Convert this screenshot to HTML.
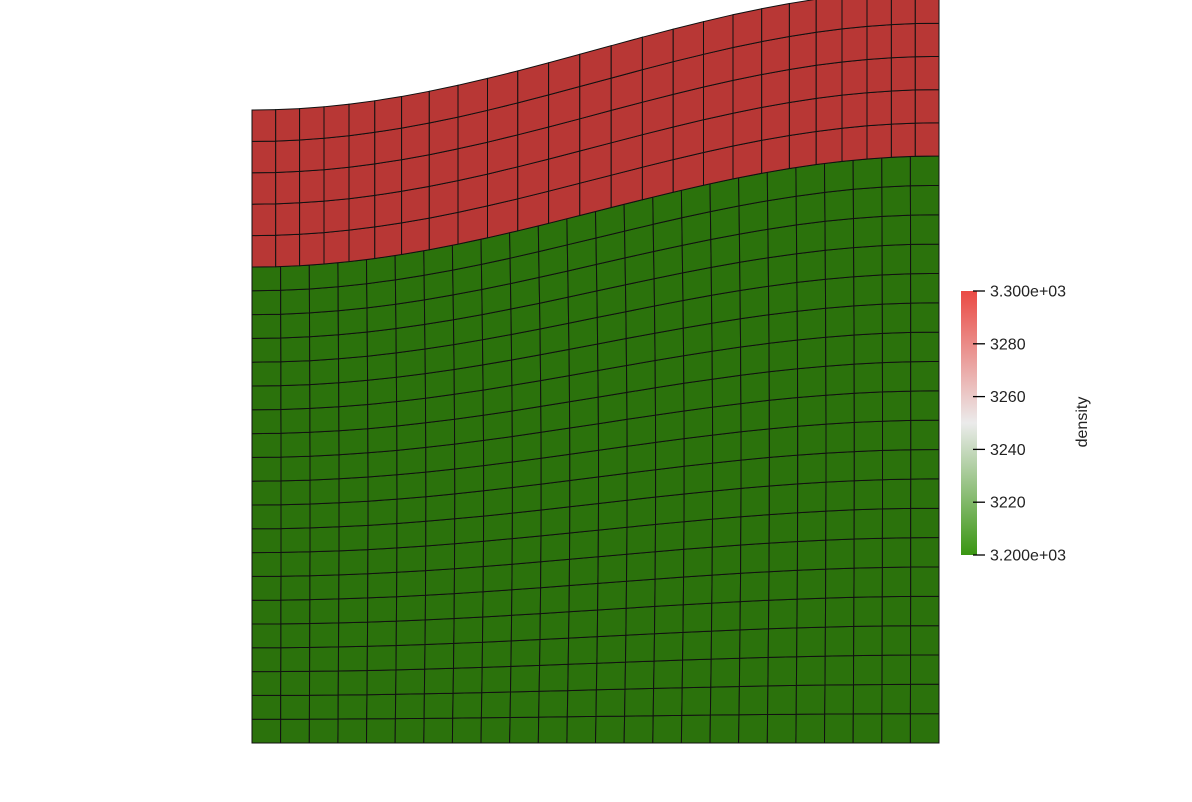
<!DOCTYPE html>
<html><head><meta charset="utf-8"><style>
html,body{margin:0;padding:0;background:#fff;width:1192px;height:802px;overflow:hidden}
svg{display:block}
text{font-family:"Liberation Sans",sans-serif;fill:#222}
</style></head><body>
<svg id="s" width="1192" height="802" viewBox="0 0 1192 802">
<defs><linearGradient id="cb" x1="0" y1="1" x2="0" y2="0">
<stop offset="0" stop-color="#3a9612"/><stop offset="0.5" stop-color="#ebebeb"/><stop offset="1" stop-color="#ea4a44"/>
</linearGradient></defs>
<g id="mesh"></g>
<g id="bar">
<rect x="961" y="291" width="16" height="264" fill="url(#cb)"/>
</g>
<text x="1087" y="422" font-size="16" transform="rotate(-90 1087 422)" text-anchor="middle">density</text>
</svg>
<script>
const tickValues=[3200,3220,3240,3260,3280,3300];
const tickLabels=["3.200e+03","3220","3240","3260","3280","3.300e+03"];
const regionNames=["lower-layer","upper-layer"];
const regionDensity=[3200,3300];
const regionCols=[24,25];
const regionRows=[20,5];
const NS="http://www.w3.org/2000/svg";
const svg=document.getElementById('s'),mesh=document.getElementById('mesh'),bar=document.getElementById('bar');
const x0=252,x1=939,vmin=3200,vmax=3300,cy0=555,cy1=291;
const vy=v=>cy0+(v-vmin)/(vmax-vmin)*(cy1-cy0);
const topY=x=>50+60*Math.cos(Math.PI*(x-x0)/(x1-x0));
const ifY=x=>211.5+55.5*Math.cos(Math.PI*(x-x0)/(x1-x0));
const botY=()=>743;
function color(v){return v>=3250?'#b83735':'#2b720c';}
function node(r,i,j){
  const nc=regionCols[r],nr=regionRows[r];
  let t=i/nc;
  if(r===1)t=t-0.14*Math.sin(2*Math.PI*t)/(2*Math.PI);
  const s=j/nr;
  const x=x0+(x1-x0)*t+(r===0?3*Math.sin(Math.PI*s)*Math.sin(Math.PI*t):0);
  const lo=r===0?botY(x):ifY(x),hi=r===0?ifY(x):topY(x);
  return [x,lo+(hi-lo)*s];
}
for(let r=0;r<regionNames.length;r++){
  const g=document.createElementNS(NS,'g');
  
  
  for(let i=0;i<regionCols[r];i++)for(let j=0;j<regionRows[r];j++){
    const p=[node(r,i,j),node(r,i+1,j),node(r,i+1,j+1),node(r,i,j+1)];
    const q=document.createElementNS(NS,'polygon');
    q.setAttribute('points',p.map(a=>a[0].toFixed(1)+','+a[1].toFixed(1)).join(' '));
    q.setAttribute('fill',color(regionDensity[r]));
    q.setAttribute('stroke','#111');
    q.setAttribute('stroke-width','1');
    
    
    g.appendChild(q);
  }
  mesh.appendChild(g);
}
tickValues.forEach((v,k)=>{
  const y=vy(v);
  const l=document.createElementNS(NS,'line');
  l.setAttribute('x1',973);l.setAttribute('x2',985);l.setAttribute('y1',y);l.setAttribute('y2',y);
  l.setAttribute('stroke','#000');l.setAttribute('stroke-width','1.3');
  
  
  bar.appendChild(l);
  const t=document.createElementNS(NS,'text');
  t.setAttribute('x',990);t.setAttribute('y',y+5.5);t.setAttribute('font-size','16');
  t.textContent=tickLabels[k];
  
  
  bar.appendChild(t);
});
</script>
</body></html>
